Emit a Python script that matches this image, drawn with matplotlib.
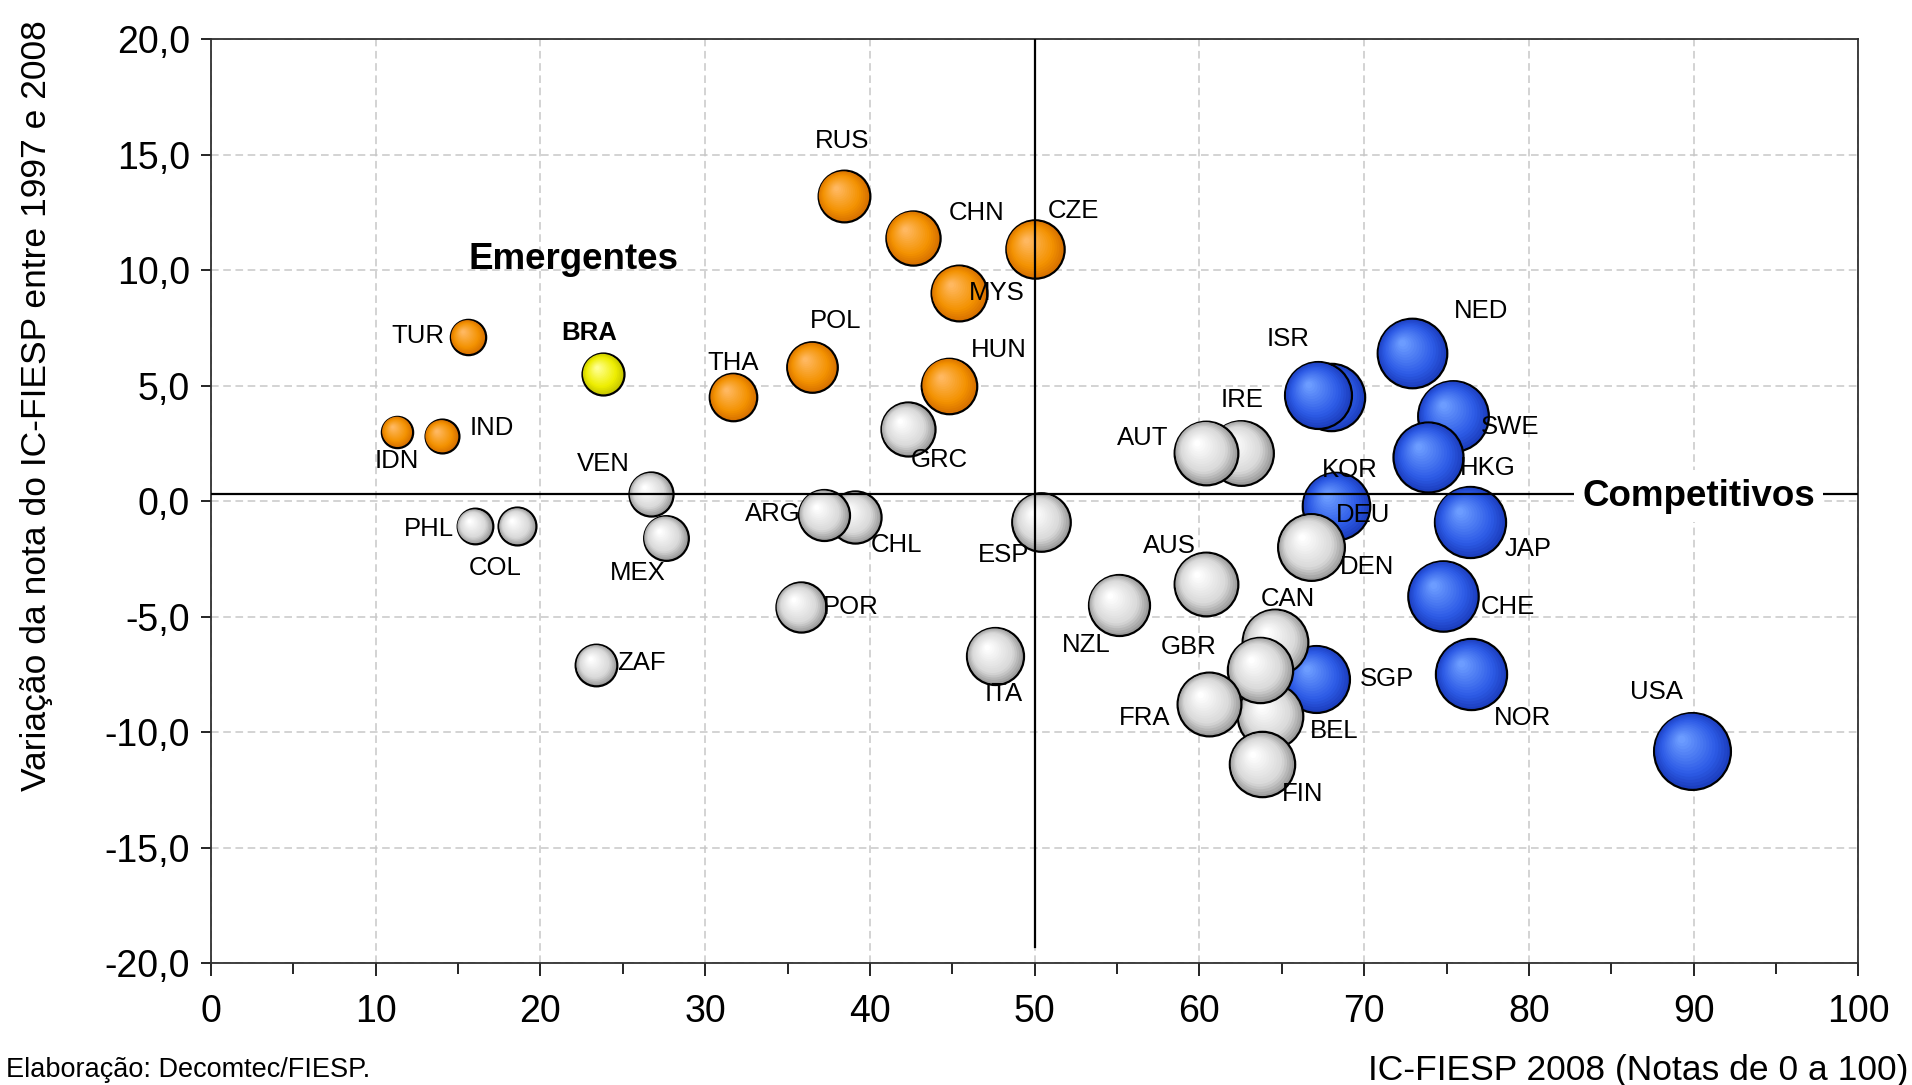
import numpy as np
import matplotlib
matplotlib.use('Agg')
import matplotlib.pyplot as plt
from matplotlib.transforms import offset_copy
from matplotlib.colors import to_rgb
from matplotlib.ticker import FuncFormatter, MultipleLocator

plt.rcParams['font.family'] = ['Liberation Sans', 'DejaVu Sans']

# IC-FIESP 2008 (x) vs variation 1997-2008 (y)
codes = ['IDN', 'IND', 'TUR', 'BRA', 'THA', 'POL', 'RUS', 'CHN', 'MYS', 'HUN', 'CZE',
         'PHL', 'COL', 'VEN', 'MEX', 'ZAF', 'ARG', 'CHL', 'POR', 'GRC', 'ESP', 'ITA',
         'NZL', 'AUT', 'IRE', 'AUS', 'DEN', 'CAN', 'GBR', 'FRA', 'BEL', 'FIN',
         'ISR', 'KOR', 'NED', 'SWE', 'HKG', 'DEU', 'JAP', 'CHE', 'SGP', 'NOR', 'USA']
score = [11.3, 14.0, 15.6, 23.8, 31.7, 36.5, 38.4, 42.6, 45.4, 44.8, 50.0,
         16.0, 18.6, 26.7, 27.6, 23.4, 37.2, 39.1, 35.8, 42.3, 50.4, 47.6,
         55.1, 60.4, 62.5, 60.4, 66.8, 64.6, 63.7, 60.6, 64.3, 63.8,
         67.2, 68.0, 72.9, 75.4, 73.9, 68.3, 76.4, 74.8, 67.1, 76.5, 89.9]
change = [3.0, 2.8, 7.1, 5.5, 4.5, 5.8, 13.2, 11.4, 9.0, 5.0, 10.9,
          -1.1, -1.1, 0.3, -1.6, -7.1, -0.6, -0.7, -4.6, 3.1, -0.9, -6.7,
          -4.5, 2.1, 2.1, -3.6, -2.0, -6.1, -7.3, -8.8, -9.3, -11.4,
          4.6, 4.5, 6.4, 3.7, 1.9, -0.2, -0.9, -4.1, -7.7, -7.5, -10.8]
group = ['emer'] * 3 + ['bra'] + ['emer'] * 7 + ['outro'] * 21 + ['comp'] * 11

mean_line_y = 0.3
mid_line_x = 50

# label offsets (pixels, right / up)
lab_off = {
    'IDN': (0, -24), 'IND': (41, 7), 'TUR': (-41, 1), 'BRA': (-11, 34),
    'THA': (0, 28), 'POL': (19, 38), 'RUS': (-1, 45), 'CHN': (52, 20),
    'MYS': (31, 0), 'HUN': (41, 29), 'CZE': (32, 31), 'GRC': (26, -25),
    'VEN': (-39, 25), 'PHL': (-37, -2), 'COL': (-18, -34), 'MEX': (-23, -29),
    'ARG': (-42, 1), 'CHL': (34, -23), 'POR': (41, 0), 'ZAF': (37, 2),
    'ESP': (-31, -27), 'ITA': (7, -31), 'NZL': (-27, -33), 'AUT': (-52, 12),
    'IRE': (1, 43), 'AUS': (-30, 31), 'DEN': (46, -16), 'CAN': (10, 35),
    'GBR': (-59, 19), 'FRA': (-53, -11), 'BEL': (52, -12), 'FIN': (33, -24),
    'ISR': (-25, 46), 'KOR': (15, -60), 'NED': (57, 35), 'SWE': (47, -9),
    'HKG': (49, -9), 'DEU': (22, -8), 'JAP': (48, -22), 'CHE': (53, -9),
    'SGP': (58, 0), 'NOR': (42, -36), 'USA': (-29, 48),
}

palette = {
    'emer': ('#D87200', '#F39200', '#FFB860'),
    'bra': ('#C8C800', '#EEEE00', '#FFFF90'),
    'outro': ('#9C9C9C', '#D9D9D9', '#FFFFFF'),
    'comp': ('#1C3FC0', '#2D5BE6', '#6C9CFF'),
}


def mix(a, b, t):
    a = np.array(to_rgb(a))
    b = np.array(to_rgb(b))
    return a + (b - a) * t


fig = plt.figure(figsize=(19.12, 10.85), dpi=100)
ax = fig.add_axes([0.1103, 0.1124, 0.8617, 0.8516])

sizes = [32.5 * v + 140 for v in score]
order = np.argsort(sizes)[::-1]
n_layers = 16
for rank, i in enumerate(order):
    dark, base, light = palette[group[i]]
    s = sizes[i]
    r = np.sqrt(s) / 2
    hx, hy = -0.3 * r, 0.32 * r
    z = 3 + rank * 0.02
    for k in range(n_layers):
        t = k / (n_layers - 1)
        sc = 1 - 0.9 * t
        if t < 0.3:
            col = mix(dark, base, t / 0.3)
        else:
            col = mix(base, light, (t - 0.3) / 0.7)
        tr = offset_copy(ax.transData, fig=fig, x=(1 - sc) * hx, y=(1 - sc) * hy, units='points')
        if k == 0:
            ax.scatter([score[i]], [change[i]], s=s, color=[col], edgecolors='black',
                       linewidths=1.6, transform=tr, zorder=z)
        else:
            ax.scatter([score[i]], [change[i]], s=s * sc ** 2, color=[col], edgecolors='none',
                       transform=tr, zorder=z + k * 0.001)

px = 1912 / 1568
for i, c in enumerate(codes):
    dx, dy = lab_off[c]
    ax.annotate(c, (score[i], change[i]), xytext=(dx * px, dy * px), textcoords='offset pixels',
                ha='center', va='center', fontsize=18.5,
                fontweight='bold' if c == 'BRA' else 'normal', zorder=10)

ax.plot([0, 100], [mean_line_y, mean_line_y], color='black', lw=1.6, zorder=8)
ax.plot([mid_line_x, mid_line_x], [-19.3, 20], color='black', lw=1.6, zorder=8)

ax.text(22.0, 10.45, 'Emergentes', fontsize=26.5, fontweight='bold', ha='center', va='center', zorder=10)
ax.text(90.3, 0.2, 'Competitivos', fontsize=26.5, fontweight='bold', ha='center', va='center', zorder=10,
        bbox=dict(facecolor='white', edgecolor='none', pad=6))

ax.set_xlim(0, 100)
ax.set_ylim(-20, 20)
ax.xaxis.set_major_locator(MultipleLocator(10))
ax.xaxis.set_minor_locator(MultipleLocator(5))
ax.yaxis.set_major_locator(MultipleLocator(5))
ax.yaxis.set_major_formatter(FuncFormatter(lambda v, p: f'{v:.1f}'.replace('.', ',')))
ax.tick_params(axis='x', which='major', length=9, width=1.2, labelsize=27, pad=13)
ax.tick_params(axis='x', which='minor', length=8, width=1.2)
ax.tick_params(axis='y', which='major', length=7, width=1.2, labelsize=27, pad=8)
ax.grid(True, which='major', color='#C8C8C8', linestyle=(0, (5, 3)), linewidth=1.1)
ax.set_axisbelow(True)
for sp in ax.spines.values():
    sp.set_color('#303030')
    sp.set_linewidth(1.3)

fig.text(0.019, 0.626, 'Variação da nota do IC-FIESP entre 1997 e 2008', rotation=90,
         ha='center', va='center', fontsize=25.5)
fig.text(0.998, 0.0135, 'IC-FIESP 2008 (Notas de 0 a 100)', ha='right', va='center', fontsize=25.5)
fig.text(0.003, 0.0135, 'Elaboração: Decomtec/FIESP.', ha='left', va='center', fontsize=19.5)

fig.savefig('out.png', dpi=100)
